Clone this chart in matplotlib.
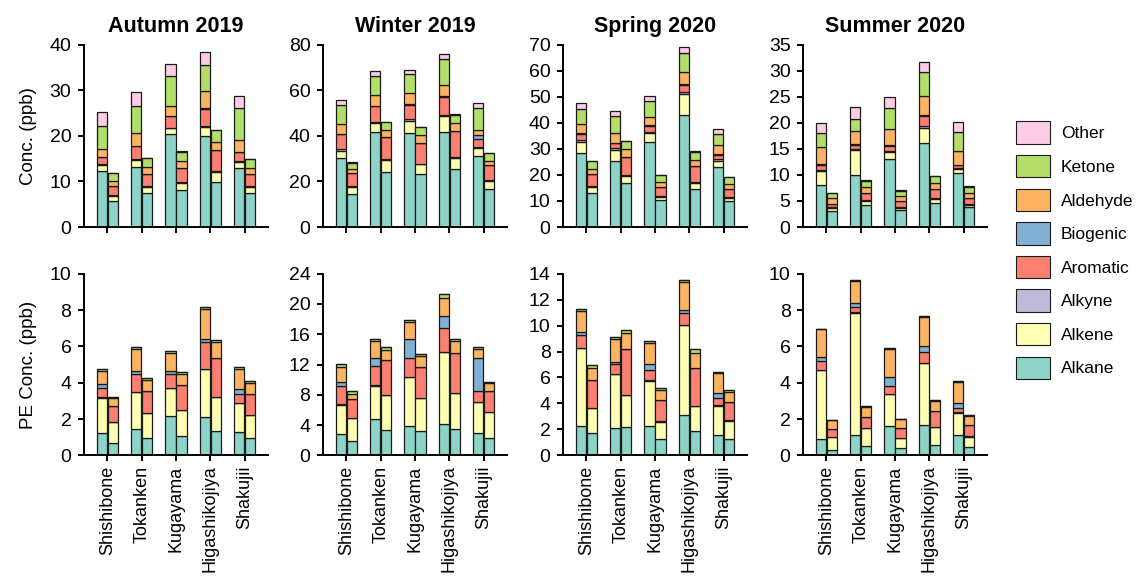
import matplotlib
matplotlib.use("Agg")
import matplotlib.pyplot as plt
import numpy as np
from matplotlib.patches import Patch

plt.rcParams["font.family"] = ["Liberation Sans", "DejaVu Sans"]

SITES = ["Shishibone", "Tokanken", "Kugayama", "Higashikojiya", "Shakujii"]
SEASONS = ["Autumn 2019", "Winter 2019", "Spring 2020", "Summer 2020"]
CATEGORIES = ["Alkane", "Alkene", "Alkyne", "Aromatic", "Biogenic", "Aldehyde", "Ketone", "Other"]
COLORS = ["#8dd3c7", "#ffffb3", "#bebada", "#fb8072", "#80b1d3", "#fdb462", "#b3de69", "#fccde5"]

# each list: 10 bars = (day, night) pair for every site, in SITES order
autumn_conc = {
    "Alkane":   [12.3, 5.6, 13.2, 7.4, 20.3, 8.1, 19.9, 9.9, 13.0, 7.5],
    "Alkene":   [1.3, 1.2, 1.5, 1.3, 1.4, 1.5, 2.0, 2.2, 1.2, 1.2],
    "Alkyne":   [0.2, 0.2, 0.2, 0.2, 0.1, 0.2, 0.3, 0.2, 0.2, 0.2],
    "Aromatic": [1.6, 2.0, 2.9, 2.7, 2.5, 3.1, 3.8, 4.6, 2.1, 2.7],
    "Biogenic": [0.05, 0.0, 0.05, 0.0, 0.05, 0.0, 0.05, 0.0, 0.05, 0.0],
    "Aldehyde": [1.6, 1.0, 2.8, 1.5, 2.3, 1.6, 3.8, 1.8, 2.5, 1.3],
    "Ketone":   [5.1, 1.8, 6.0, 2.0, 6.4, 2.0, 5.6, 2.5, 7.0, 2.0],
    "Other":    [3.0, 0.1, 2.9, 0.1, 2.7, 0.1, 3.0, 0.1, 2.7, 0.1],
}
winter_conc = {
    "Alkane":   [30.1, 14.3, 41.8, 24.3, 41.4, 23.2, 41.8, 25.3, 31.1, 16.8],
    "Alkene":   [3.4, 3.4, 3.7, 5.1, 5.2, 4.3, 6.9, 4.8, 3.4, 3.5],
    "Alkyne":   [0.6, 0.3, 0.4, 0.3, 0.6, 0.3, 0.6, 0.5, 0.4, 0.5],
    "Aromatic": [6.5, 5.5, 7.2, 9.8, 6.2, 9.2, 7.7, 11.5, 3.8, 6.2],
    "Biogenic": [0.2, 0.0, 0.2, 0.0, 0.7, 0.0, 0.3, 0.0, 1.5, 0.0],
    "Aldehyde": [4.3, 1.8, 4.8, 3.0, 4.5, 3.2, 5.1, 3.4, 2.3, 2.1],
    "Ketone":   [8.5, 2.6, 8.2, 3.4, 8.4, 3.5, 11.4, 3.8, 9.8, 3.2],
    "Other":    [2.0, 0.5, 2.2, 0.3, 2.0, 0.3, 2.1, 0.3, 2.1, 0.3],
}
spring_conc = {
    "Alkane":   [28.5, 13.2, 25.5, 16.8, 32.6, 10.2, 42.9, 14.6, 22.9, 10.1],
    "Alkene":   [4.3, 2.0, 4.1, 2.9, 3.4, 1.4, 8.2, 2.3, 2.4, 1.2],
    "Alkyne":   [0.6, 0.4, 0.6, 0.3, 0.6, 0.3, 0.6, 0.5, 0.7, 0.3],
    "Aromatic": [2.5, 4.7, 1.9, 7.0, 2.2, 3.3, 2.8, 6.0, 1.8, 3.1],
    "Biogenic": [0.3, 0.0, 0.3, 0.0, 0.3, 0.0, 0.3, 0.0, 0.3, 0.0],
    "Aldehyde": [3.2, 1.8, 3.8, 2.8, 3.3, 1.9, 4.6, 2.3, 3.4, 1.7],
    "Ketone":   [6.0, 3.1, 6.4, 3.2, 5.8, 2.7, 7.5, 3.1, 4.1, 2.7],
    "Other":    [2.1, 0.2, 2.1, 0.2, 2.1, 0.2, 2.1, 0.2, 2.0, 0.2],
}
summer_conc = {
    "Alkane":   [8.0, 3.0, 9.9, 4.2, 13.0, 3.3, 16.1, 4.7, 10.3, 3.8],
    "Alkene":   [2.7, 0.6, 4.8, 0.7, 1.4, 0.4, 2.9, 0.6, 0.8, 0.4],
    "Alkyne":   [0.2, 0.2, 0.3, 0.2, 0.2, 0.2, 0.3, 0.2, 0.3, 0.2],
    "Aromatic": [1.1, 0.7, 0.8, 1.4, 1.0, 1.1, 2.1, 1.8, 0.5, 1.2],
    "Biogenic": [0.1, 0.0, 0.1, 0.0, 0.1, 0.0, 0.1, 0.0, 0.1, 0.0],
    "Aldehyde": [3.3, 1.0, 2.6, 1.2, 3.2, 1.0, 3.6, 1.1, 2.5, 1.0],
    "Ketone":   [2.7, 1.0, 2.2, 1.2, 4.0, 1.0, 4.6, 1.3, 3.8, 1.1],
    "Other":    [1.9, 0.1, 2.3, 0.1, 2.0, 0.1, 2.0, 0.1, 1.9, 0.1],
}

autumn_pe = {
    "Alkane":   [1.21, 0.66, 1.47, 0.95, 2.15, 1.05, 2.11, 1.32, 1.27, 0.97],
    "Alkene":   [1.96, 1.16, 2.00, 1.38, 1.54, 1.45, 2.64, 1.87, 1.59, 1.25],
    "Alkyne":   [0.02, 0.02, 0.02, 0.02, 0.02, 0.02, 0.02, 0.02, 0.02, 0.02],
    "Aromatic": [0.50, 0.88, 0.99, 1.21, 0.75, 1.35, 1.45, 2.17, 0.51, 1.12],
    "Biogenic": [0.22, 0.0, 0.16, 0.0, 0.20, 0.0, 0.18, 0.0, 0.24, 0.0],
    "Aldehyde": [0.73, 0.42, 1.21, 0.57, 0.95, 0.61, 1.64, 0.84, 1.12, 0.60],
    "Ketone":   [0.11, 0.09, 0.13, 0.11, 0.13, 0.13, 0.11, 0.15, 0.13, 0.11],
    "Other":    [0.0, 0.0, 0.0, 0.0, 0.0, 0.0, 0.0, 0.0, 0.0, 0.0],
}
winter_pe = {
    "Alkane":   [2.78, 1.90, 4.80, 3.30, 3.83, 3.17, 4.14, 3.48, 2.90, 2.29],
    "Alkene":   [3.92, 3.00, 4.40, 4.67, 6.52, 4.36, 9.46, 4.71, 4.10, 3.39],
    "Alkyne":   [0.05, 0.05, 0.05, 0.05, 0.05, 0.05, 0.05, 0.05, 0.05, 0.05],
    "Aromatic": [2.37, 2.45, 2.55, 4.58, 2.40, 4.09, 3.15, 5.24, 1.45, 2.77],
    "Biogenic": [0.58, 0.0, 1.00, 0.0, 2.60, 0.0, 1.66, 0.0, 4.30, 0.0],
    "Aldehyde": [2.02, 0.75, 2.27, 1.36, 2.20, 1.41, 2.38, 1.59, 1.20, 1.00],
    "Ketone":   [0.31, 0.31, 0.30, 0.34, 0.30, 0.27, 0.46, 0.33, 0.30, 0.24],
    "Other":    [0.0, 0.0, 0.0, 0.0, 0.0, 0.0, 0.0, 0.0, 0.0, 0.0],
}
spring_pe = {
    "Alkane":   [2.23, 1.70, 2.10, 2.18, 2.23, 1.28, 3.10, 1.90, 1.54, 1.23],
    "Alkene":   [6.04, 1.92, 4.14, 2.47, 3.52, 1.31, 6.94, 1.90, 2.29, 1.44],
    "Alkyne":   [0.03, 0.03, 0.03, 0.03, 0.03, 0.03, 0.03, 0.03, 0.03, 0.03],
    "Aromatic": [0.97, 2.13, 0.77, 3.49, 0.80, 1.62, 0.92, 2.87, 0.56, 1.44],
    "Biogenic": [0.26, 0.0, 0.18, 0.0, 0.46, 0.0, 0.21, 0.0, 0.38, 0.0],
    "Aldehyde": [1.59, 0.92, 1.74, 1.23, 1.64, 0.79, 2.18, 1.19, 1.54, 0.72],
    "Ketone":   [0.16, 0.24, 0.13, 0.28, 0.16, 0.18, 0.16, 0.28, 0.06, 0.17],
    "Other":    [0.0, 0.0, 0.0, 0.0, 0.0, 0.0, 0.0, 0.0, 0.0, 0.0],
}
summer_pe = {
    "Alkane":   [0.88, 0.31, 1.12, 0.50, 1.61, 0.40, 1.69, 0.55, 1.10, 0.48],
    "Alkene":   [3.80, 0.68, 6.73, 0.99, 1.75, 0.54, 3.37, 0.99, 1.25, 0.55],
    "Alkyne":   [0.02, 0.02, 0.02, 0.02, 0.02, 0.02, 0.02, 0.02, 0.02, 0.02],
    "Aromatic": [0.47, 0.44, 0.28, 0.58, 0.45, 0.53, 0.62, 0.86, 0.22, 0.62],
    "Biogenic": [0.22, 0.0, 0.22, 0.0, 0.46, 0.0, 0.30, 0.0, 0.27, 0.0],
    "Aldehyde": [1.56, 0.48, 1.24, 0.59, 1.56, 0.51, 1.63, 0.59, 1.20, 0.51],
    "Ketone":   [0.03, 0.02, 0.03, 0.03, 0.05, 0.02, 0.06, 0.03, 0.03, 0.02],
    "Other":    [0.0, 0.0, 0.0, 0.0, 0.0, 0.0, 0.0, 0.0, 0.0, 0.0],
}

CONC = [autumn_conc, winter_conc, spring_conc, summer_conc]
PE = [autumn_pe, winter_pe, spring_pe, summer_pe]
CONC_YTICKS = [np.arange(0, 41, 10), np.arange(0, 81, 20), np.arange(0, 71, 10), np.arange(0, 36, 5)]
PE_YTICKS = [np.arange(0, 11, 2), np.arange(0, 25, 4), np.arange(0, 15, 2), np.arange(0, 11, 2)]

BAR_W = 0.30
OFFSET = 0.16
EDGE = "#1a1a1a"


def stacked(ax, data, yticks):
    site_x = np.arange(len(SITES))
    x = np.column_stack([site_x - OFFSET, site_x + OFFSET]).ravel()
    bottom = np.zeros(len(x))
    for cat, col in zip(CATEGORIES, COLORS):
        vals = np.array(data[cat])
        ax.bar(x, vals, BAR_W, bottom=bottom, color=col,
               edgecolor=EDGE, linewidth=0.9)
        bottom += vals
    ax.set_xlim(-0.68, 4.68)
    ax.set_ylim(0, yticks[-1])
    ax.set_yticks(yticks)
    ax.set_xticks(site_x)
    ax.spines[["top", "right"]].set_visible(False)
    for s in ("left", "bottom"):
        ax.spines[s].set_linewidth(1.4)
    ax.tick_params(width=1.4, length=4)
    ax.tick_params(axis="y", labelsize=14, pad=5)
    ax.tick_params(axis="x", labelsize=13)


fig = plt.figure(figsize=(11.36, 5.86), dpi=100)
lefts = [0.0739, 0.2843, 0.4956, 0.7069]
width = 0.162
for i in range(4):
    ax_top = fig.add_axes([lefts[i], 0.6126, width, 0.3111])
    stacked(ax_top, CONC[i], CONC_YTICKS[i])
    ax_top.set_xticklabels([])
    ax_top.set_title(SEASONS[i], fontsize=15.5, fontweight="bold", pad=9)

    ax_bot = fig.add_axes([lefts[i], 0.2230, width, 0.3099])
    stacked(ax_bot, PE[i], PE_YTICKS[i])
    ax_bot.set_xticklabels(SITES, rotation=90)
    if i == 0:
        ax_top.set_ylabel("Conc. (ppb)", fontsize=13.5, labelpad=9)
        ax_bot.set_ylabel("PE Conc. (ppb)", fontsize=13.5, labelpad=9)

handles = [Patch(facecolor=c, edgecolor=EDGE, linewidth=0.8, label=l)
           for l, c in zip(CATEGORIES, COLORS)][::-1]
fig.legend(handles=handles, loc="center left", bbox_to_anchor=(0.885, 0.573),
           frameon=False, fontsize=12.5, handlelength=2.0, handleheight=1.6,
           labelspacing=0.65, handletextpad=0.6, borderaxespad=0.2)

fig.savefig("out.png", dpi=100)
